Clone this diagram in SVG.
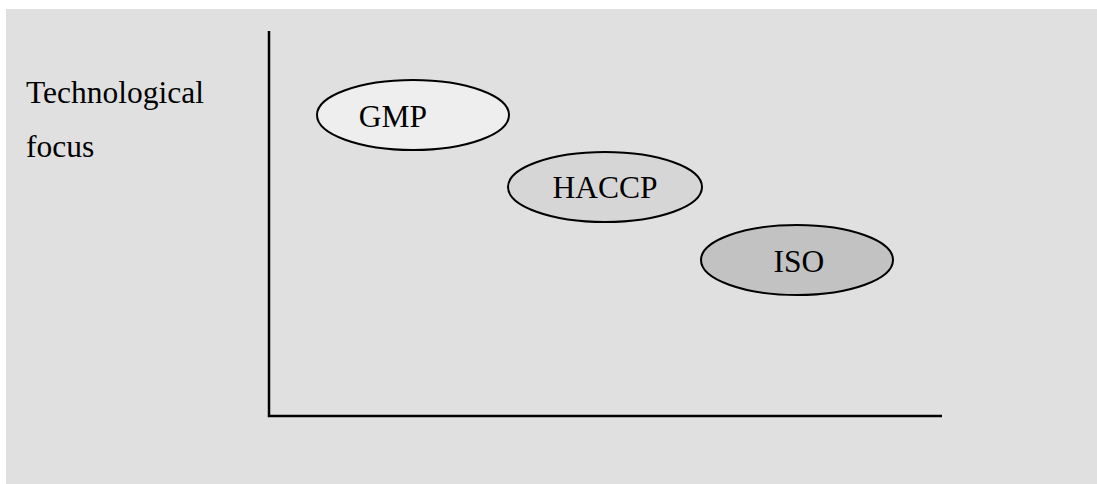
<svg xmlns="http://www.w3.org/2000/svg" width="1097" height="484" viewBox="0 0 1097 484">
  <style>
    .lbl { font-family: "Liberation Serif", "Times New Roman", serif; font-size: 31.5px; fill: #000; }
    .node ellipse { stroke: #000; stroke-width: 2; }
    .axis { stroke: #000; stroke-width: 2.5; fill: none; }
  </style>
  <rect x="0" y="0" width="1097" height="484" fill="#ffffff"/>
  <rect x="6" y="9" width="1091" height="475" fill="#e0e0e0"/>
  <g id="axis-label">
    <text class="lbl" x="26" y="103">Technological</text>
    <text class="lbl" x="26" y="157">focus</text>
  </g>
  <g id="connectors">
    <path class="axis" d="M269,31 V416 H942"/>
  </g>
  <g id="gmp" class="node">
    <ellipse cx="413" cy="115" rx="96" ry="35" fill="#eeeeee"/>
    <text class="lbl" x="393" y="127" text-anchor="middle">GMP</text>
  </g>
  <g id="haccp" class="node">
    <ellipse cx="605" cy="187" rx="97" ry="35" fill="#d6d6d6"/>
    <text class="lbl" x="605" y="198" text-anchor="middle">HACCP</text>
  </g>
  <g id="iso" class="node">
    <ellipse cx="797" cy="260" rx="96" ry="35" fill="#c2c2c2"/>
    <text class="lbl" x="799" y="272" text-anchor="middle">ISO</text>
  </g>
</svg>
